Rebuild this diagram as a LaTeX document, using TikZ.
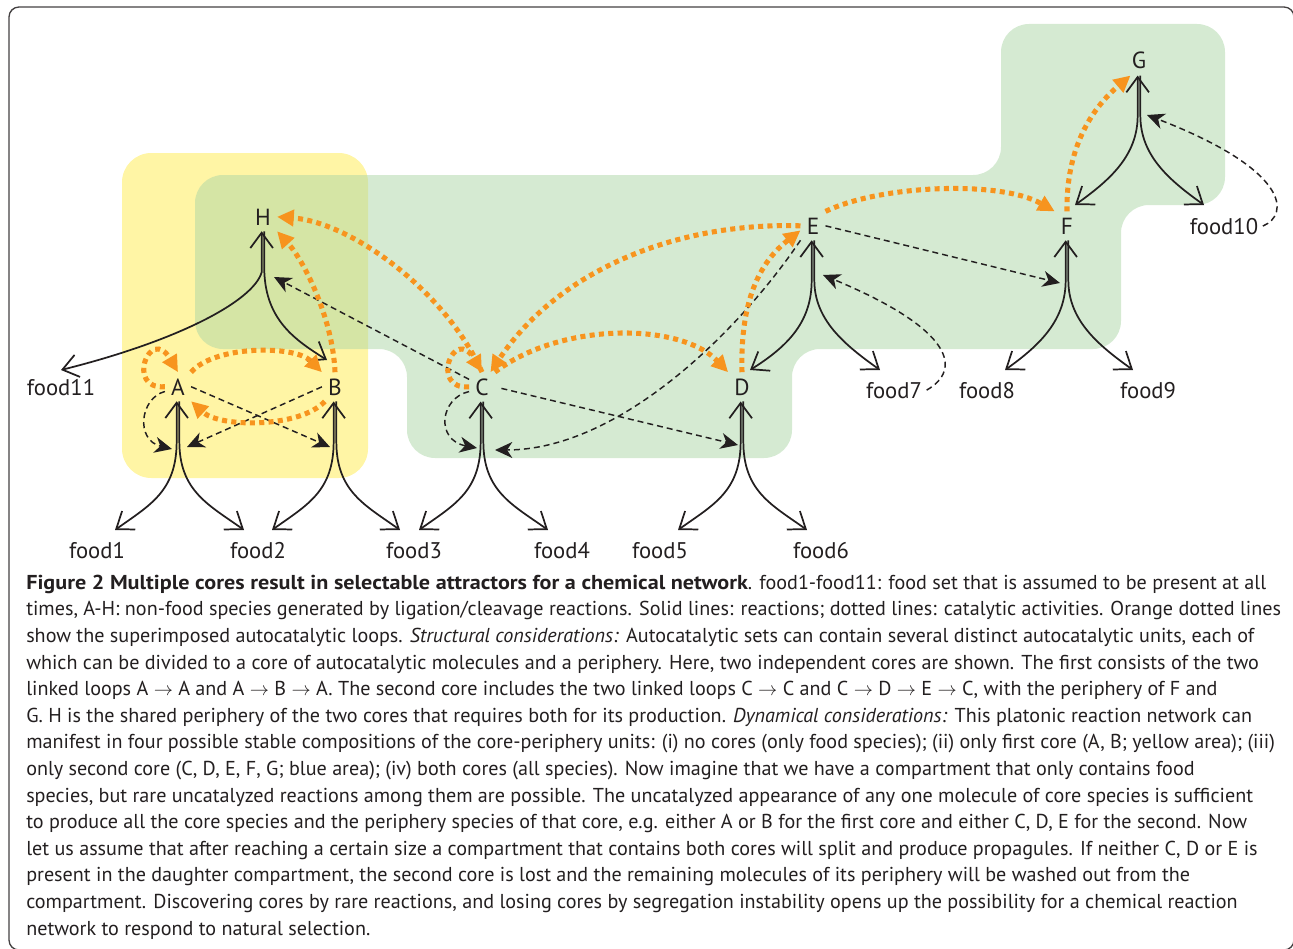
\documentclass[tikz,border=0pt]{standalone}
\usepackage{fontspec}
\setmainfont{PT Sans}[BoldFeatures={FakeStretch=1.1}]
\usepackage{tikz}
\usetikzlibrary{arrows.meta}

\definecolor{ink}{RGB}{35,31,32}
\definecolor{loopcol}{RGB}{247,148,30}
\definecolor{core1}{RGB}{255,245,165}
\definecolor{core2}{RGB}{172,214,166}

\begin{document}
\begin{tikzpicture}[
    x=0.75pt, y=-0.75pt,
    species/.style={font=\fontsize{17.5}{20}\selectfont, text=ink, inner sep=4.5pt, anchor=base},
    food/.style={font=\fontsize{17}{20}\selectfont, text=ink, anchor=base},
    react/.style={draw=ink, line width=1.3pt, -{Straight Barb[length=11.5pt, width=17pt]}},
    react2/.style={react, {Straight Barb[length=11.5pt, width=17pt]}-{Straight Barb[length=11.5pt, width=17pt]}},
    cat/.style={draw=ink, line width=1.1pt, dash pattern=on 4.5pt off 3pt, -{Stealth[length=13pt, width=12pt, inset=4pt]}},
    autocat/.style={draw=loopcol, line width=3.8pt, dash pattern=on 3.8pt off 3.2pt, -{Triangle[length=12.5pt, width=12pt]}}
]
    \useasboundingbox (0,0) rectangle (1293,949);
    \draw[ink!85, line width=1pt, rounded corners=7.5pt] (9,7) rectangle (1294,950);

    % 区域
    \fill[core1, rounded corners=22pt] (122,153) rectangle (368,478);
    \fill[core2, opacity=0.5, rounded corners=21pt] (195,175) -- (1001,175) -- (1001,24) -- (1225,24)
        -- (1225,205) -- (1121,205) -- (1121,349) -- (792,349) -- (792,458) -- (407,458)
        -- (407,349) -- (195,349) -- cycle;

    % 物种
    \node[species] (H) at (263,225) {H};
    \node[species] (A) at (178,395) {A};
    \node[species] (B) at (335,395) {B};
    \node[species] (C) at (482,395) {C};
    \node[species] (D) at (742,395) {D};
    \node[species] (E) at (813,234) {E};
    \node[species] (F) at (1067,234) {F};
    \node[species] (G) at (1139,69) {G};

    % 食物
    \node[food] (f1) at (97,558) {food1};
    \node[food] (f2) at (258,558) {food2};
    \node[food] (f3) at (414,558) {food3};
    \node[food] (f4) at (562,558) {food4};
    \node[food] (f5) at (660,558) {food5};
    \node[food] (f6) at (821,558) {food6};
    \node[food] (f7) at (894,398) {food7};
    \node[food] (f8) at (987,398) {food8};
    \node[food] (f9) at (1148,398) {food9};
    \node[food] (f10) at (1224,234) {food10};
    \node[food] (f11) at (61,395) {food11};

    % 反应端点
    \coordinate (A-f1) at (115,530);
    \coordinate (A-f2) at (244,530);
    \coordinate (B-f2) at (272,530);
    \coordinate (B-f3) at (400,530);
    \coordinate (C-f3) at (419,530);
    \coordinate (C-f4) at (548,530);
    \coordinate (D-f5) at (678,530);
    \coordinate (D-f6) at (807,530);
    \coordinate (E-D) at (750,370);
    \coordinate (E-f7) at (880,370);
    \coordinate (F-f8) at (1005,370);
    \coordinate (F-f9) at (1133,370);
    \coordinate (G-F) at (1075,205);
    \coordinate (G-f10) at (1204,205);
    \coordinate (H-f11) at (61,370);
    \coordinate (H-B) at (327,360);

    % 反应（实线）
    \draw[react2] ([xshift=-1pt]A.south) -- ++(0,40) .. controls +(0,50) and +(35,-25) .. (A-f1);
    \draw[react] ([xshift=1pt]A.south) -- ++(0,40) .. controls +(0,50) and +(-35,-25) .. (A-f2);
    \draw[react2] ([xshift=-1pt]B.south) -- ++(0,40) .. controls +(0,50) and +(35,-25) .. (B-f2);
    \draw[react] ([xshift=1pt]B.south) -- ++(0,40) .. controls +(0,50) and +(-35,-25) .. (B-f3);
    \draw[react2] ([xshift=-1pt]C.south) -- ++(0,40) .. controls +(0,50) and +(35,-25) .. (C-f3);
    \draw[react] ([xshift=1pt]C.south) -- ++(0,40) .. controls +(0,50) and +(-35,-25) .. (C-f4);
    \draw[react2] ([xshift=-1pt]D.south) -- ++(0,40) .. controls +(0,50) and +(35,-25) .. (D-f5);
    \draw[react] ([xshift=1pt]D.south) -- ++(0,40) .. controls +(0,50) and +(-35,-25) .. (D-f6);
    \draw[react2] ([xshift=-1pt]E.south) -- ++(0,40) .. controls +(0,40) and +(40,-25) .. (E-D);
    \draw[react] ([xshift=1pt]E.south) -- ++(0,40) .. controls +(0,40) and +(-35,-25) .. (E-f7);
    \draw[react2] ([xshift=-1pt]F.south) -- ++(0,40) .. controls +(0,40) and +(35,-25) .. (F-f8);
    \draw[react] ([xshift=1pt]F.south) -- ++(0,40) .. controls +(0,40) and +(-35,-25) .. (F-f9);
    \draw[react2] ([xshift=-1pt]G.south) -- ++(0,40) .. controls +(0,40) and +(35,-25) .. (G-F);
    \draw[react] ([xshift=1pt]G.south) -- ++(0,40) .. controls +(0,40) and +(-35,-25) .. (G-f10);
    \draw[react2] ([xshift=-1pt]H.south) -- ++(0,41) .. controls +(-8,28) and +(120,-30) .. (H-f11);
    \draw[react] ([xshift=1pt]H.south) -- ++(0,41) .. controls +(2,48) and +(-32,-20) .. (H-B);

    % 催化位点
    \coordinate (A-l) at (172,449);
    \coordinate (A-r) at (187,447);
    \coordinate (B-l) at (330,447);
    \coordinate (C-l) at (477,448);
    \coordinate (C-r) at (495,450);
    \coordinate (D-l) at (738,445);
    \coordinate (H-r) at (274,277);
    \coordinate (E-r) at (823,275);
    \coordinate (F-l) at (1060,283);
    \coordinate (G-r) at (1147,115);

    % 催化（虚线）
    \draw[cat] (A.200) .. controls (140,398) and (135,440) .. (A-l);
    \draw[cat] (A.east) -- (B-l);
    \draw[cat] (B.west) -- (A-r);
    \draw[cat] (C.200) .. controls (440,398) and (435,440) .. (C-l);
    \draw[cat] (C.150) -- (H-r);
    \draw[cat, shorten <=5pt] (C.east) -- (D-l);
    \draw[cat] (E.south west) .. controls (740,330) and (620,450) .. (C-r);
    \draw[cat] (E.east) -- (F-l);
    \draw[cat] (f7.east) .. controls (962,370) and (955,330) .. (E-r);
    \draw[cat] (f10.east) .. controls (1290,215) and (1290,170) .. (G-r);

    % 自催化环（橙色）
    \draw[autocat] (A.west) .. controls (125,390) and (150,325) .. (A.north);
    \draw[autocat] (A.north east) .. controls (215,345) and (295,345) .. (B.north west);
    \draw[autocat] (B.235) .. controls (300,428) and (220,428) .. (A.south east);
    \draw[autocat] (B.north) .. controls (333,320) and (305,262) .. (H.south east);
    \draw[autocat] (C.north) .. controls (445,290) and (350,222) .. (H.east);
    \draw[autocat] (C.west) .. controls (429,390) and (454,325) .. (C.north);
    \draw[autocat] (C.north east) .. controls (560,322) and (680,322) .. (D.north west);
    \draw[autocat] (D.north) .. controls (740,300) and (760,262) .. (E.200);
    \draw[autocat] (E.west) .. controls (680,222) and (560,268) .. (C.60);
    \draw[autocat] (E.north east) .. controls (880,185) and (1000,180) .. (F.north west);
    \draw[autocat] (F.north) .. controls (1066,150) and (1090,110) .. (G.240);

    % 图注
    \node[anchor=base west, align=left, inner sep=0pt, text=ink,
          font=\fontsize{15.1}{19.95}\selectfont] (caption) at (26,935) {%
\textbf{Figure 2 Multiple cores result in selectable attractors for a chemical network}. food1-food11: food set that is assumed to be present at all\\
times, A-H: non-food species generated by ligation/cleavage reactions. Solid lines: reactions; dotted lines: catalytic activities. Orange dotted lines\\
show the superimposed autocatalytic loops. \textit{Structural considerations:} Autocatalytic sets can contain several distinct autocatalytic units, each of\\
which can be divided to a core of autocatalytic molecules and a periphery. Here, two independent cores are shown. The first consists of the two\\
linked loops A $\rightarrow$ A and A $\rightarrow$ B $\rightarrow$ A. The second core includes the two linked loops C $\rightarrow$ C and C $\rightarrow$ D $\rightarrow$ E $\rightarrow$ C, with the periphery of F and\\
G. H is the shared periphery of the two cores that requires both for its production. \textit{Dynamical considerations:} This platonic reaction network can\\
manifest in four possible stable compositions of the core-periphery units: (i) no cores (only food species); (ii) only first core (A, B; yellow area); (iii)\\
only second core (C, D, E, F, G; blue area); (iv) both cores (all species). Now imagine that we have a compartment that only contains food\\
species, but rare uncatalyzed reactions among them are possible. The uncatalyzed appearance of any one molecule of core species is sufficient\\
to produce all the core species and the periphery species of that core, e.g. either A or B for the first core and either C, D, E for the second. Now\\
let us assume that after reaching a certain size a compartment that contains both cores will split and produce propagules. If neither C, D or E is\\
present in the daughter compartment, the second core is lost and the remaining molecules of its periphery will be washed out from the\\
compartment. Discovering cores by rare reactions, and losing cores by segregation instability opens up the possibility for a chemical reaction\\
network to respond to natural selection.};
\end{tikzpicture}
\end{document}
